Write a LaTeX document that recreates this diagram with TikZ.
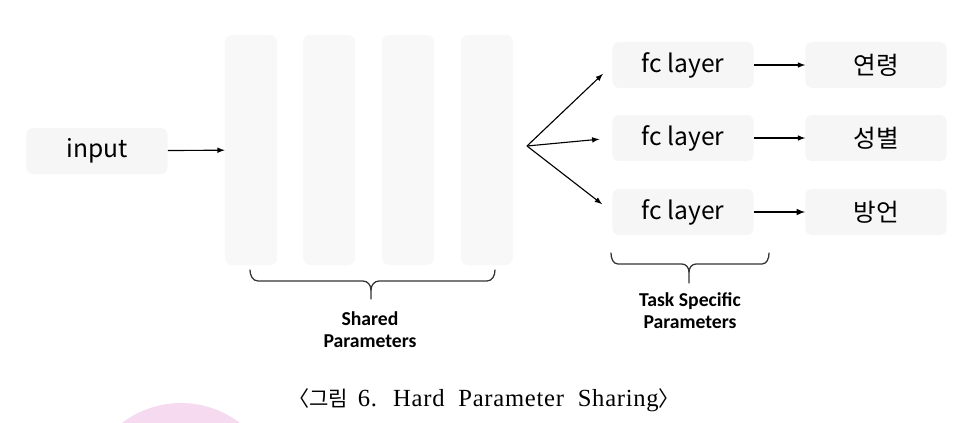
\documentclass[tikz,border=0pt]{standalone}
\usepackage{fontspec}
\setmainfont{Noto Sans CJK KR}
\newfontfamily\krfont{Noto Sans CJK KR}
\newfontfamily\lblfont{Carlito}
\newfontfamily\capfont[LetterSpace=3,WordSpace=2]{Liberation Serif}
\usepackage{tikz}
\usetikzlibrary{calc}
\usetikzlibrary{shapes,arrows}

\definecolor{boxgray}{HTML}{F6F6F6}
\definecolor{colgray}{HTML}{F8F8F8}
\definecolor{blobpink}{HTML}{F5DAF0}
\definecolor{linegray}{HTML}{333333}

\begin{document}
\begin{tikzpicture}[x=0.025cm,y=-0.025cm]
     \tikzstyle{every node}=[font=\fontsize{17.5}{20}\selectfont]
     \tikzstyle{box}=[fill=boxgray, rounded corners=4pt, minimum width=3.525cm, minimum height=1.15cm, inner sep=0pt]
     \tikzstyle{col}=[fill=colgray, rounded corners=5pt, minimum width=1.3cm, minimum height=5.75cm, inner sep=0pt]
     \tikzstyle{arr}=[line width=0.8pt, black, -latex]
     \tikzstyle{brc}=[line width=0.9pt, linegray, line cap=round]
     \tikzstyle{lbl}=[font=\lblfont\bfseries\fontsize{14}{15.5}\selectfont, align=center]
      \useasboundingbox (0,0) rectangle (960,422);
      \begin{scope}
        \clip (0,0) rectangle (960,422);
        \fill [blobpink] (181,500) circle (97);
      \end{scope}
      % input and shared layers
      \node [box] (input) at (97,151) {input};
      \node [col] (col1) at (251,150) {};
      \node [col] (col2) at (329,150) {};
      \node [col] (col3) at (408,150) {};
      \node [col] (col4) at (487,150) {};
      \draw [arr] (input) -- (col1);
      % task heads
      \coordinate (Split) at (527,146);
      \node [box] (fc1) at (683,65) {fc layer};
      \node [box] (fc2) at (683,138) {fc layer};
      \node [box] (fc3) at (683,212) {fc layer};
      \node [box] (out1) at (876,65) {연령};
      \node [box] (out2) at (876,138) {성별};
      \node [box] (out3) at (876,212) {방언};
      \draw [arr, shorten >=0.32cm] (Split) -- (fc1.west);
      \draw [arr, shorten >=0.32cm] (Split) -- (fc2.west);
      \draw [arr, shorten >=0.32cm] (Split) -- (fc3.west);
      \draw [arr] (fc1) -- (out1);
      \draw [arr] (fc2) -- (out2);
      \draw [arr, line width=1.1pt] (fc3) -- (out3);
      % braces
      \draw [brc] (250,270) to[out=-90,in=180] (258,281) -- (363,281) to[out=0,in=90] (371,290) -- (371,299);
      \draw [brc] (495,270) to[out=-90,in=0] (487,281) -- (379,281) to[out=180,in=90] (371,290);
      \draw [brc] (611,253) to[out=-90,in=180] (618,264) -- (682,264) to[out=0,in=90] (689,272) -- (689,283);
      \draw [brc] (769,253) to[out=-90,in=0] (762,264) -- (696,264) to[out=180,in=90] (689,272);
      \node [lbl] (shared) at (370,330) {Shared\\Parameters};
      \node [lbl] (task) at (690,311) {Task Specific\\Parameters};
      % caption
      \node (caption) at (484,400) {{\krfont\fontsize{15}{18}\selectfont 〈그림}\hspace{7pt}{\capfont\fontsize{17.5}{18}\selectfont 6. Hard Parameter Sharing}{\krfont\fontsize{15}{18}\selectfont 〉}};
    \end{tikzpicture}
\end{document}
